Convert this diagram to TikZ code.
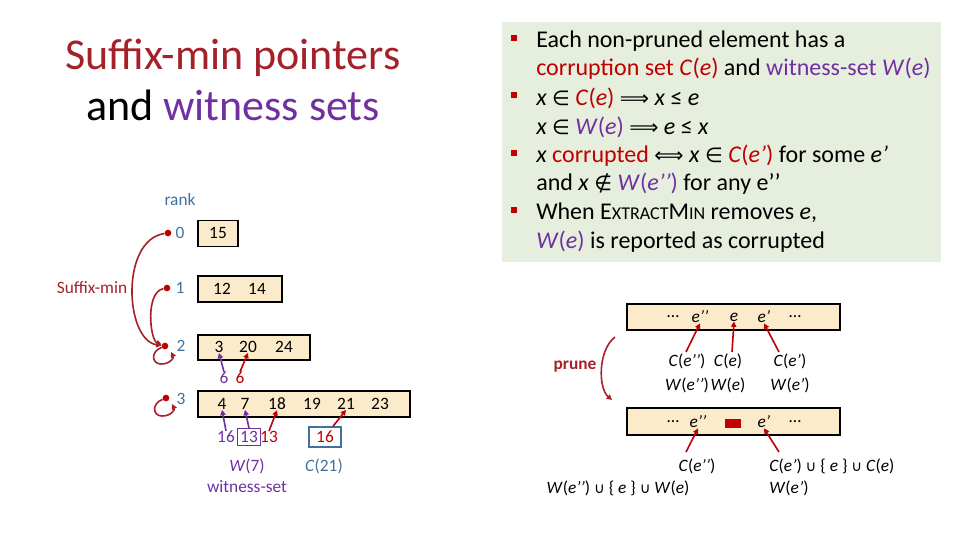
\documentclass[tikz,border=0pt]{standalone}
\usepackage{fontspec}
\setmainfont{Carlito}
\newfontfamily\symf{DejaVu Sans}
\newcommand{\sy}[1]{{\symf\fontsize{0.85em}{1em}\selectfont #1}}
\usetikzlibrary{arrows.meta}
\definecolor{dred}{HTML}{A5212A}
\definecolor{cred}{HTML}{C00000}
\definecolor{purp}{HTML}{7030A0}
\definecolor{teal2}{HTML}{41719C}
\definecolor{beige}{HTML}{FCEBCB}
\definecolor{gbg}{HTML}{E6EEDD}
\begin{document}
\begin{tikzpicture}[x=0.75pt,y=-0.75pt,
  arr/.style={-{Triangle[length=4pt,width=4pt]},line width=1.2pt},
  hbox/.style={draw,line width=1.1pt,fill=beige},
  sm/.style={font=\fontsize{13}{15}\selectfont,inner sep=0pt},
  lbl/.style={font=\fontsize{13}{15}\selectfont,inner sep=0pt},
  dotn/.style={circle,fill=cred,inner sep=0pt,minimum size=5pt}]
\useasboundingbox (0,0) rectangle (960,540);
% title
\node[font=\fontsize{33}{40}\selectfont,text=dred] (t1) at (233,58) {Suffix-min pointers};
\node[font=\fontsize{33}{40}\selectfont] (t2) at (233,105) {and \textcolor{purp}{witness sets}};
% green box
\node[fill=gbg,minimum width=329pt,minimum height=180pt,anchor=north west,inner sep=0pt] (gb) at (502,22) {};
\begin{scope}[every node/.style={anchor=west,inner sep=0pt,font=\fontsize{18}{21}\selectfont}]
\node (l1) at (536,41) {Each non-pruned element has a};
\node (l2) at (536,69) {\textcolor{cred}{corruption set \textit{C}(\textit{e})} and \textcolor{purp}{witness-set \textit{W}(\textit{e})}};
\node (l3) at (536,98) {\textit{x} \sy{∈} \textcolor{cred}{\textit{C}(\textit{e})} \sy{⟹} \textit{x} ≤ \textit{e}};
\node (l4) at (536,127) {\textit{x} \sy{∈} \textcolor{purp}{\textit{W}(\textit{e})} \sy{⟹} \textit{e} ≤ \textit{x}};
\node (l5) at (536,156) {\textit{x} \textcolor{cred}{corrupted} \sy{⟺} \textit{x} \sy{∈} \textcolor{cred}{\textit{C}(\textit{e’})} for some \textit{e’}};
\node (l6) at (536,184) {and \textit{x} \sy{∉} \textcolor{purp}{\textit{W}(\textit{e’’})} for any e’’};
\node (l7) at (536,213) {When E{\fontsize{13.5}{14}\selectfont XTRACT}M{\fontsize{13.5}{14}\selectfont IN} removes \textit{e},};
\node (l8) at (536,242) {\textcolor{purp}{\textit{W}(\textit{e})} is reported as corrupted};
\end{scope}
\foreach \yy/\nm in {41/b1,98/b2,156/b3,213/b4}
  \node[fill=cred,minimum size=4.5pt,inner sep=0pt] (\nm) at (514,\yy-3) {};
% left
\node[lbl,text=teal2] (rank) at (180,200) {rank};
\node[lbl,text=dred] (sufm) at (92,288) {Suffix-min};
\node[dotn] (d0) at (168,233) {};
\node[dotn] (d1) at (167,288) {};
\node[dotn] (d2) at (165,346) {};
\node[dotn] (d3) at (166,398) {};
\foreach \n/\yy/\xx in {0/233/180,1/288/180,2/346/181,3/399/181}
  \node[lbl,text=teal2] (r\n) at (\xx,\yy) {\n};
\node[hbox,minimum width=30pt,minimum height=19.5pt,inner sep=0pt] (bx0) at (218,233.5) {};
\node[hbox,minimum width=63pt,minimum height=19.5pt,inner sep=0pt] (bx1) at (240,289) {};
\node[hbox,minimum width=84pt,minimum height=19pt,inner sep=0pt] (bx2) at (254,347.5) {};
\node[hbox,minimum width=159pt,minimum height=19.5pt,inner sep=0pt] (bx3) at (304,404) {};
\node[sm] (n15) at (218,233) {15};
\node[sm] (n12) at (222,289) {12};
\node[sm] (n14) at (257,289) {14};
\node[sm] (n3) at (219,347) {3};
\node[sm] (n20) at (248,347) {20};
\node[sm] (n24) at (284,347) {24};
\node[sm] (n4) at (222,404) {4};
\node[sm] (n7) at (245,404) {7};
\node[sm] (n18) at (277,404) {18};
\node[sm] (n19) at (312,404) {19};
\node[sm] (n21) at (346,404) {21};
\node[sm] (n23) at (380,404) {23};
\node[sm,text=purp] (s6a) at (224,378) {6};
\node[sm,text=cred] (s6b) at (240,378) {6};
\draw[arr,purp] (s6a.north) -- (n3.south);
\draw[arr,cred] (s6b.north) -- (n20.south);
\node[sm,text=purp] (s16) at (226,437) {16};
\node[sm,text=purp,draw=purp,line width=1pt,inner sep=2pt] (s13a) at (249,437) {13};
\node[sm,text=cred] (s13b) at (269,437) {13};
\node[sm,text=cred,draw=teal2,line width=1pt,minimum width=24pt,minimum height=15pt] (s16b) at (325,437) {16};
\draw[arr,purp] (s16.north) -- (n4.south);
\draw[arr,purp] (s13a.north) -- (n7.south);
\draw[arr,cred] (s13b.north) -- (n18.south);
\draw[arr,cred] ([xshift=6]s16b.north) -- (n21.south);
\node[lbl,text=purp] (w7) at (247,466) {\textit{W}(7)};
\node[lbl,text=purp] (wset) at (247,487) {witness-set};
\node[lbl,text=teal2] (c21) at (324,466) {\textit{C}(21)};
\draw[arr,dred] (d0) .. controls (120,240) and (125,340) .. (d2);
\draw[arr,dred] (d1) .. controls (145,292) and (150,340) .. (d2);
\draw[arr,dred] (d2) .. controls (150,352) and (152,364) .. (161,364) .. controls (170,364) and (174,358) .. (171,352);
\draw[arr,dred] (d3) .. controls (151,404) and (153,416) .. (162,416) .. controls (171,416) and (175,410) .. (172,404);
% right
\node[hbox,minimum width=160pt,minimum height=19.5pt,inner sep=0pt] (tb) at (733.5,317) {};
\begin{scope}[every node/.style={sm}]
\node (ta) at (673,317) {…};
\node (te2) at (700,317) {\textit{e’’}};
\node (te) at (734,317) {\textit{e}};
\node (te1) at (764,317) {\textit{e’}};
\node (tz) at (795,317) {…};
\end{scope}
\node[lbl,align=center] (ce2) at (687,373) {\textit{C}(\textit{e’’})\\[3pt]\textit{W}(\textit{e’’})};
\node[lbl,align=center] (ce) at (728,373) {\textit{C}(\textit{e})\\[3pt]\textit{W}(\textit{e})};
\node[lbl,align=center] (ce1) at (790,373) {\textit{C}(\textit{e’})\\[3pt]\textit{W}(\textit{e’})};
\draw[arr,cred] (686,352) -- (te2.south);
\draw[arr,cred] (732,352) -- (te.south);
\draw[arr,cred] (779,352) -- (te1.south);
\node[hbox,minimum width=160pt,minimum height=20pt,inner sep=0pt] (bb) at (733.5,421.5) {};
\begin{scope}[every node/.style={sm}]
\node (ba) at (673,422) {…};
\node (be2) at (698,422) {\textit{e’’}};
\node (be1) at (764,422) {\textit{e’}};
\node (bz) at (795,422) {…};
\end{scope}
\node[fill=cred,minimum width=12pt,minimum height=7pt,inner sep=0pt] (gap) at (733,423.5) {};
\node[lbl] (bc2) at (697,466) {\textit{C}(\textit{e’’})};
\node[lbl] (bw2) at (618,488) {\textit{W}(\textit{e’’}) \sy{∪} \{ \textit{e} \} \sy{∪} \textit{W}(\textit{e})};
\node[lbl,anchor=west] (bc1) at (769,466) {\textit{C}(\textit{e’}) \sy{∪} \{ \textit{e} \} \sy{∪} \textit{C}(\textit{e})};
\node[lbl,anchor=west] (bw1) at (769,488) {\textit{W}(\textit{e’})};
\draw[arr,cred] (686,452) -- (be2.south);
\draw[arr,cred] (779,452) -- (be1.south);
\node[lbl,text=dred,font=\fontsize{13}{15}\selectfont\bfseries] (prune) at (575,367) {prune};
\draw[arr,dred] (615,337) .. controls (598,350) and (598,388) .. (612,400);
\end{tikzpicture}
\end{document}
